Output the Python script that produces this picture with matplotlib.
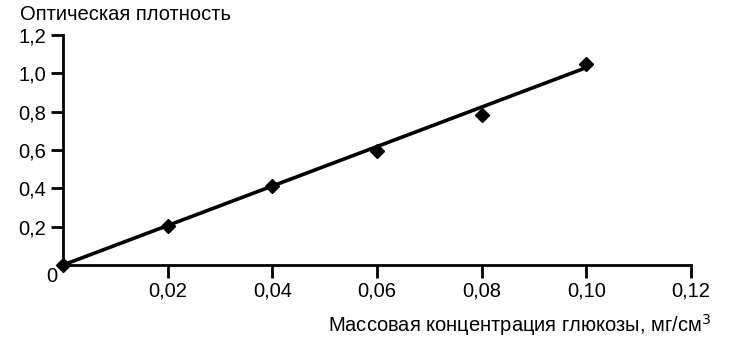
import matplotlib
matplotlib.use("Agg")
import matplotlib.pyplot as plt

plt.rcParams['font.family'] = ['Liberation Sans', 'DejaVu Sans']

conc = [0.0, 0.02, 0.04, 0.06, 0.08, 0.10]
density = [0.0, 0.205, 0.41, 0.595, 0.78, 1.05]
fit_x = [0.0, 0.10]
fit_y = [0.0, 1.03]
xticks = [0.02, 0.04, 0.06, 0.08, 0.10, 0.12]
xtick_labels = ["0,02", "0,04", "0,06", "0,08", "0,10", "0,12"]
yticks = [0.2, 0.4, 0.6, 0.8, 1.0, 1.2]
ytick_labels = ["0,2", "0,4", "0,6", "0,8", "1,0", "1,2"]

FS = 14.5

fig = plt.figure(figsize=(7.36, 3.52), dpi=100)
ax = fig.add_axes([63/736, 1-265/352, (691-63)/736, (265-35)/352])

ax.plot(fit_x, fit_y, color='black', lw=2.6, solid_capstyle='round', zorder=2)
ax.plot(conc, density, linestyle='none', marker='D', color='black', ms=7, zorder=3, clip_on=False)

ax.set_xlim(0, 0.12)
ax.set_ylim(0, 1.2)
ax.set_xticks(xticks)
ax.set_xticklabels(xtick_labels)
ax.set_yticks(yticks)
ax.set_yticklabels(ytick_labels)
for s in ['top', 'right']:
    ax.spines[s].set_visible(False)
for s in ['left', 'bottom']:
    ax.spines[s].set_linewidth(2.0)
ax.tick_params(axis='both', direction='out', length=9, width=2.0, labelsize=FS, colors='black')
ax.tick_params(axis='x', pad=3)
ax.tick_params(axis='y', pad=3)

fig.text(52/736, 1-277/352, "0", fontsize=FS, ha='center', va='center')
fig.text(20/736, 1-15/352, "Оптическая плотность", fontsize=FS, ha='left', va='center')
fig.text(711/736, 1-325/352, "Массовая концентрация глюкозы, мг/см$^3$", fontsize=FS, ha='right', va='center')

fig.savefig("out.png", dpi=100)
